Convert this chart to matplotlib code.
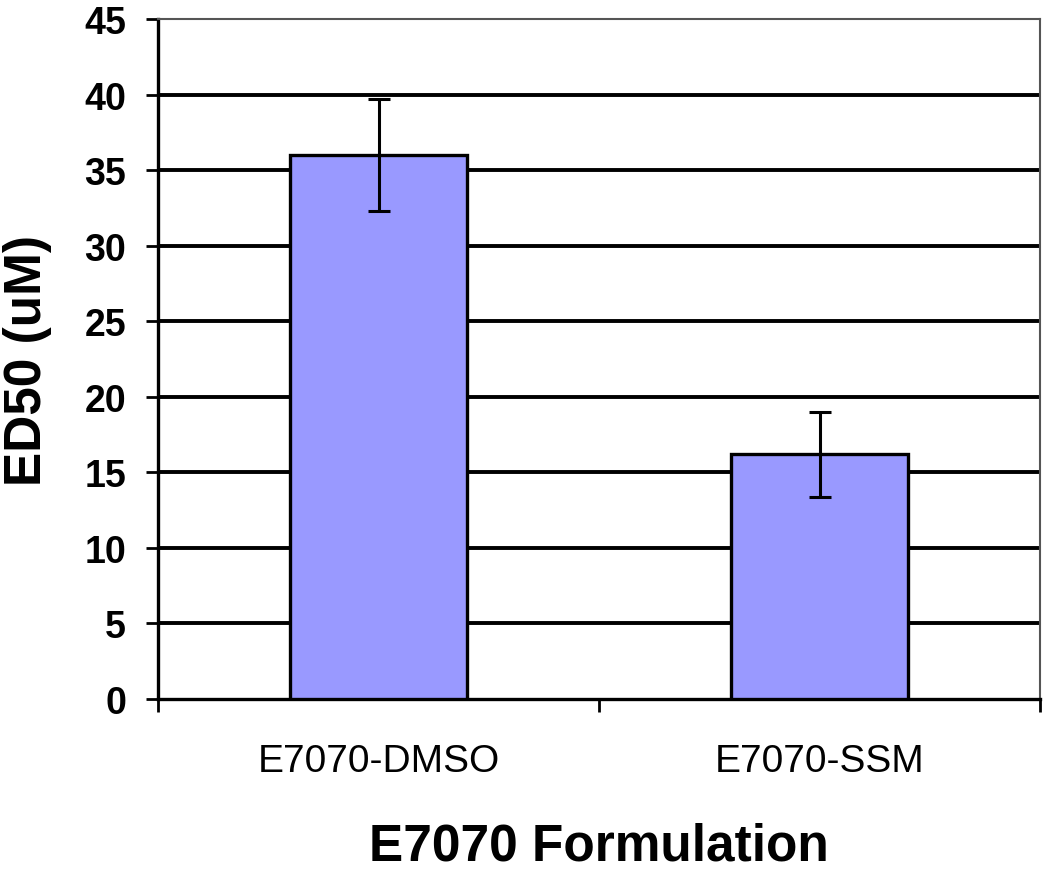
import matplotlib
matplotlib.use("Agg")
import matplotlib.pyplot as plt

# data
categories = ["E7070-DMSO", "E7070-SSM"]
ed50 = [36.0, 16.2]
ed50_err = [3.7, 2.8]
y_ticks = [0, 5, 10, 15, 20, 25, 30, 35, 40, 45]

plt.rcParams['font.family'] = ['Liberation Sans', 'DejaVu Sans']

fig = plt.figure(figsize=(10.5, 8.7), dpi=100)
ax = fig.add_axes([0.1505, 0.1954, 0.84, 0.7816])

x = range(len(categories))
ax.bar(x, ed50, width=0.4, color='#9999ff', edgecolor='black', linewidth=2.4, zorder=3)
ax.errorbar(x, ed50, yerr=ed50_err, fmt='none', ecolor='black', elinewidth=2.2,
            capsize=8, capthick=2.2, zorder=4)

ax.set_xlim(-0.5, 1.5)
ax.set_ylim(0, 45)
ax.set_yticks(y_ticks)
ax.set_yticklabels([str(t) for t in y_ticks], fontsize=27, fontweight='bold')

# gridlines (not at 0 and 45)
for t in y_ticks[1:-1]:
    ax.axhline(t, color='black', linewidth=2.8, zorder=1)

ax.set_xticks(list(x))
ax.set_xticklabels(categories, fontsize=28)
ax.tick_params(axis='x', which='major', length=0, pad=32)
ax.set_xticks([-0.5, 0.5, 1.5], minor=True)
ax.tick_params(axis='x', which='minor', length=9, width=2, direction='out', color='black')
ax.tick_params(axis='y', length=9, width=2, direction='out', pad=14)

for side in ['left', 'bottom']:
    ax.spines[side].set_linewidth(2.4)
    ax.spines[side].set_color('black')
for side in ['top', 'right']:
    ax.spines[side].set_linewidth(1.5)
    ax.spines[side].set_color('#555555')

ax.set_ylabel("ED50 (uM)", fontsize=37, fontweight='bold')
ax.yaxis.set_label_coords(-0.12, 0.5)
ax.set_xlabel("E7070 Formulation", fontsize=37, fontweight='bold')
ax.xaxis.set_label_coords(0.5, -0.18)

fig.savefig("out.png", dpi=100)
